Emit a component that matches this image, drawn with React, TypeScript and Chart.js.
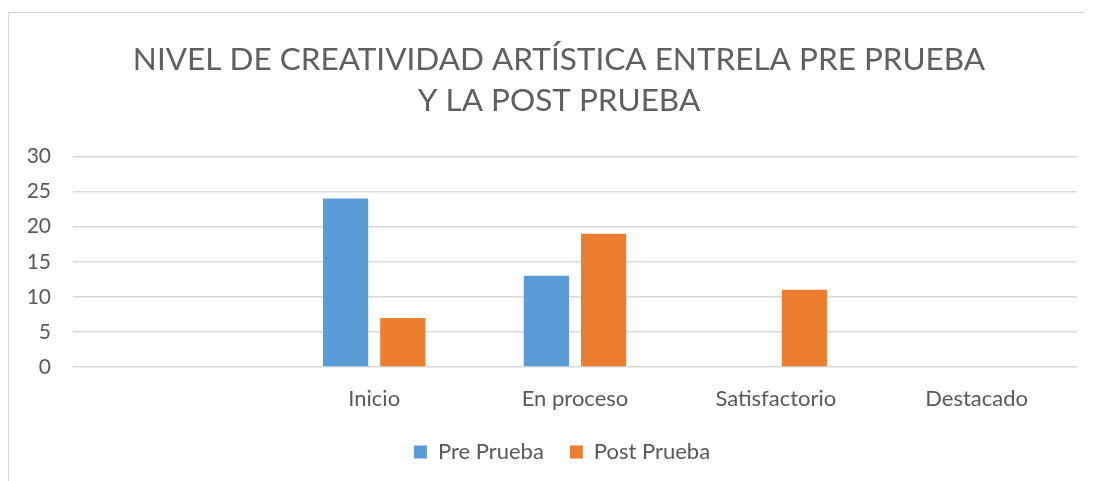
import React, { useEffect, useRef } from "react";
import { Chart, registerables } from "chart.js";

Chart.register(...registerables);

const categories = ["", "Inicio", "En proceso", "Satisfactorio", "Destacado"];
const preValues = [null, 24, 13, 0, 0];
const postValues = [null, 7, 19, 11, 0];
const titleLines = ["NIVEL DE CREATIVIDAD ARTÍSTICA ENTRELA PRE PRUEBA", "Y LA POST PRUEBA"];
const seriesNames = ["Pre Prueba", "Post Prueba"];

const legendTweak = {
  id: "legendTweak",
  beforeLayout(chart: any) {
    const lg = chart.legend;
    if (lg && !lg.__patched) {
      const orig = lg.fit.bind(lg);
      lg.fit = function () {
        orig();
        this.height = 66;
      };
      lg.__patched = true;
    }
  },
  afterLayout(chart: any) {
    const lg = chart.legend;
    if (lg) {
      lg.left += 19;
      lg.right += 19;
    }
    const tb = chart.titleBlock;
    if (tb) {
      tb.left += 16;
      tb.right += 16;
    }
  },
};

export default function App() {
  const ref = useRef<HTMLCanvasElement | null>(null);
  useEffect(() => {
    document.body.style.overflow = "hidden";
    const ctx = ref.current!;
    const chart = new Chart(ctx, {
      type: "bar",
      data: {
        labels: categories,
        datasets: [
          { label: seriesNames[0], data: preValues, backgroundColor: "#5B9BD5", categoryPercentage: 0.57, barPercentage: 0.79 },
          { label: seriesNames[1], data: postValues, backgroundColor: "#ED7D31", categoryPercentage: 0.57, barPercentage: 0.79 },
        ],
      },
      plugins: [legendTweak],
      options: {
        animation: false,
        responsive: false,
        maintainAspectRatio: false,
        layout: { padding: { left: 0, right: 16, top: 0, bottom: 0 } },
        plugins: {
          title: {
            display: true,
            text: titleLines,
            color: "#5f5f5f",
            font: { family: "Lato", size: 31.5, weight: "normal", lineHeight: 1.31 },
            padding: { top: 26, bottom: 35 },
          },
          legend: {
            position: "bottom",
            labels: {
              color: "#595959",
              font: { family: "Lato", size: 22 },
              boxWidth: 13,
              boxHeight: 13,
              padding: 26,
            },
          },
          tooltip: { enabled: false },
        },
        scales: {
          x: {
            afterFit: (s: any) => { s.height = 48; },
            grid: { display: false, drawTicks: false },
            border: { display: false },
            ticks: { color: "#595959", font: { family: "Lato", size: 22 }, padding: 19, maxRotation: 0 },
          },
          y: {
            min: 0,
            max: 30,
            afterFit: (s: any) => { s.width = 64; },
            grid: { color: "#D9D9D9", lineWidth: 1.5, drawTicks: false },
            border: { display: false },
            ticks: { stepSize: 5, color: "#595959", font: { family: "Lato", size: 21 }, padding: 22 },
          },
        },
      },
    });
    return () => chart.destroy();
  }, []);
  return (
    <div
      style={{
        marginTop: 4,
        width: 1085,
        height: 469,
        borderLeft: "1px solid #D9D9D9",
        borderTop: "1px solid #D9D9D9",
        boxSizing: "border-box",
      }}
    >
      <canvas ref={ref} width={1084} height={468} style={{ display: "block" }} />
    </div>
  );
}
